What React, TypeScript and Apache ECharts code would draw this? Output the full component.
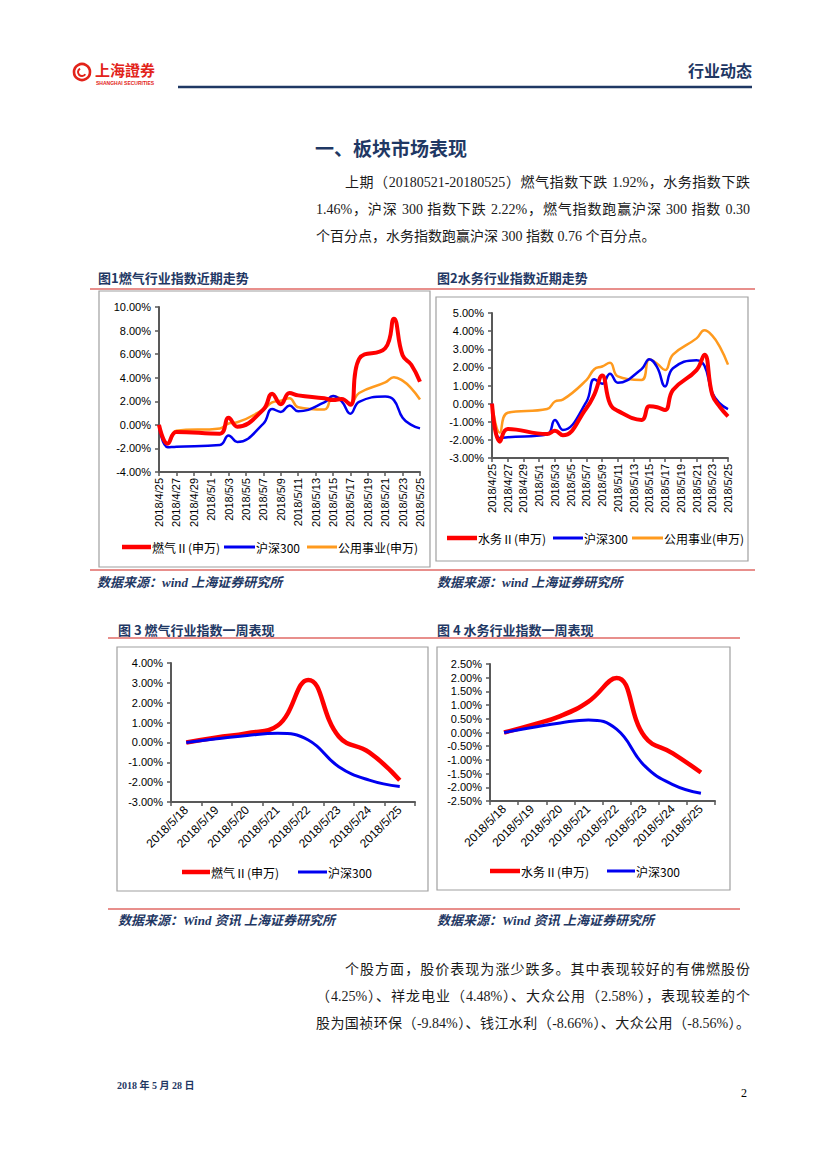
import React, { useEffect, useRef } from 'react';
import * as echarts from 'echarts';

// ---------- DATA ----------
const calendarDays = [
  '2018/4/25', '2018/4/26', '2018/4/27', '2018/4/28', '2018/4/29', '2018/4/30', '2018/5/1',
  '2018/5/2', '2018/5/3', '2018/5/4', '2018/5/5', '2018/5/6', '2018/5/7', '2018/5/8',
  '2018/5/9', '2018/5/10', '2018/5/11', '2018/5/12', '2018/5/13', '2018/5/14', '2018/5/15',
  '2018/5/16', '2018/5/17', '2018/5/18', '2018/5/19', '2018/5/20', '2018/5/21', '2018/5/22',
  '2018/5/23', '2018/5/24', '2018/5/25',
];
const tradingDays = [
  '2018/4/25', '2018/4/26', '2018/4/27', '2018/5/2', '2018/5/3', '2018/5/4', '2018/5/7',
  '2018/5/8', '2018/5/9', '2018/5/10', '2018/5/11', '2018/5/14', '2018/5/15', '2018/5/16',
  '2018/5/17', '2018/5/18', '2018/5/21', '2018/5/22', '2018/5/23', '2018/5/24', '2018/5/25',
];
const gasTrend = [0, -1.6, -0.6, -0.75, 0.6, -0.15, 1.3, 2.65, 1.75, 2.7, 2.5, 2.25, 2.1, 2.2, 1.7, 5.6, 6.5, 9.0, 5.9, 5.1, 3.65];
const hs300Trend = [0, -1.9, -1.85, -1.7, -0.9, -1.45, 0.1, 1.35, 1.1, 1.65, 1.15, 1.9, 2.45, 2.0, 0.95, 1.95, 2.4, 2.1, 0.6, 0.0, -0.3];
const utilityTrend = [0, -1.6, -0.5, -0.3, 0.12, 0.22, 1.3, 1.9, 2.05, 2.25, 1.5, 1.3, 2.45, 2.2, 1.85, 2.7, 3.6, 4.05, 3.75, 3.1, 2.15];
const waterTrend = [0, -2.1, -1.4, -1.68, -1.5, -1.75, -0.25, 0.5, 1.55, 0.0, -0.4, -0.9, -0.15, -0.2, -0.35, 0.75, 1.85, 2.7, 0.5, -0.2, -0.7];

const weekDays = ['2018/5/18', '2018/5/19', '2018/5/20', '2018/5/21', '2018/5/22', '2018/5/23', '2018/5/24', '2018/5/25'];
const gasWeek = [0, 0.25, 0.47, 0.85, 3.15, 0.3, -0.5, -1.9];
const waterWeek = [0, 0.28, 0.6, 1.13, 1.99, -0.15, -0.76, -1.46];
const hs300Week = [0, 0.18, 0.35, 0.46, 0.12, -1.22, -1.9, -2.22];

const NAME_GAS = '燃气Ⅱ(申万)';
const NAME_WATER = '水务Ⅱ(申万)';
const NAME_HS = '沪深300';
const NAME_UTIL = '公用事业(申万)';

// ---------- STYLE ----------
const NAVY = '#1F3864';
const RED = '#FF0000';
const BLUE = '#0000F0';
const ORANGE = '#FF9A1E';
const AXIS = '#595959';
const SANS = '"Liberation Sans", Arial, "Noto Sans CJK SC", sans-serif';
const CJK = '"Noto Sans CJK SC", sans-serif';
const SERIF_CJK = '"Liberation Serif", "Noto Sans CJK SC", serif';

const pct = (v: number) => v.toFixed(2) + '%';

function yAxis(gridIndex: number, min: number, max: number, interval: number) {
  return {
    type: 'value', gridIndex, min, max, interval,
    axisLine: { show: true, lineStyle: { color: AXIS, width: 2 } },
    axisTick: { show: true, length: 4, lineStyle: { color: AXIS, width: 1.5 } },
    splitLine: { show: false },
    axisLabel: { formatter: pct, fontSize: 11, color: '#000', margin: 8, fontFamily: SANS },
  };
}

function trendXAxis(gridIndex: number) {
  return {
    type: 'category', gridIndex, data: calendarDays, boundaryGap: false,
    axisLine: { onZero: false, lineStyle: { color: AXIS, width: 2 } },
    axisTick: { show: true, interval: 1, length: 4, lineStyle: { color: AXIS, width: 1.5 } },
    axisLabel: { interval: 1, rotate: 90, fontSize: 11, color: '#000', margin: 6, fontFamily: SANS },
  };
}

function weekXAxis(gridIndex: number) {
  return {
    type: 'category', gridIndex, data: weekDays, boundaryGap: true,
    axisLine: { onZero: false, lineStyle: { color: AXIS, width: 2 } },
    axisTick: { show: true, length: 4, lineStyle: { color: AXIS, width: 1.5 } },
    axisLabel: { interval: 0, rotate: 45, fontSize: 12, color: '#000', margin: 6, fontFamily: SANS },
  };
}

function lineSeries(name: string, idx: number, data: any[], color: string, width: number, z: number) {
  return {
    type: 'line', name, xAxisIndex: idx, yAxisIndex: idx, data,
    smooth: 0.45, showSymbol: false, symbol: 'none', z,
    lineStyle: { color, width }, itemStyle: { color },
  };
}

const pairs = (vals: number[]) => tradingDays.map((d, i) => [d, vals[i]]);

function txt(text: string, x: number, y: number, font: string, fill: string, align = 'left') {
  return { type: 'text', silent: true, style: { text, x, y, font, fill, align, verticalAlign: 'middle' } };
}
function hline(x1: number, x2: number, y: number, stroke: string, lineWidth: number) {
  return { type: 'line', silent: true, shape: { x1, y1: y, x2, y2: y }, style: { stroke, lineWidth } };
}
function box(x: number, y: number, w: number, h: number) {
  return { type: 'rect', silent: true, shape: { x, y, width: w, height: h }, style: { fill: 'none', stroke: '#A0A0A0', lineWidth: 1.2 } };
}
function legendItem(x: number, y: number, color: string, lw: number, label: string, len = 29) {
  return [
    { type: 'line', silent: true, shape: { x1: x, y1: y, x2: x + len, y2: y }, style: { stroke: color, lineWidth: lw } },
    txt(label, x + len + 1, y, `12px ${CJK}`, '#000'),
  ];
}

const SEP = '#E06A66';
const CAP_FONT = `bold 13px ${CJK}`;
const SRC_FONT = `italic bold 13px ${SERIF_CJK}`;

const graphics: any[] = [
  // header logo
  { type: 'circle', silent: true, shape: { cx: 82, cy: 72, r: 8 }, style: { fill: 'none', stroke: '#E2231A', lineWidth: 2.6 } },
  { type: 'arc', silent: true, shape: { cx: 82, cy: 72, r: 4, startAngle: 0.6, endAngle: 4.2 }, style: { fill: 'none', stroke: '#E2231A', lineWidth: 2 } },
  txt('上海證券', 95, 69, `bold 15px "Noto Sans CJK TC", ${CJK}`, '#E2231A'),
  txt('SHANGHAI SECURITIES', 96, 83, `bold 5px ${SANS}`, '#E2231A'),
  txt('行业动态', 752, 70, `bold 16px ${CJK}`, NAVY, 'right'),
  hline(178, 752, 87, NAVY, 2.5),
  // section title
  txt('一、板块市场表现', 315, 147, `bold 19px ${CJK}`, NAVY),
  // figure 1 & 2 captions
  txt('图1燃气行业指数近期走势', 98, 277, CAP_FONT, NAVY),
  txt('图2水务行业指数近期走势', 437, 277, CAP_FONT, NAVY),
  hline(90, 755, 289, SEP, 1.5),
  box(99, 291, 331, 276),
  box(436, 297, 312, 264),
  hline(90, 755, 570, SEP, 1.5),
  txt('数据来源：wind 上海证券研究所', 97, 582, SRC_FONT, NAVY),
  txt('数据来源：wind 上海证券研究所', 437, 582, SRC_FONT, NAVY),
  // figure 3 & 4
  txt('图 3 燃气行业指数一周表现', 118, 629, CAP_FONT, NAVY),
  txt('图 4 水务行业指数一周表现', 437, 629, CAP_FONT, NAVY),
  hline(108, 740, 638, SEP, 1.5),
  box(117, 647, 311, 244),
  box(437, 647, 293, 243),
  hline(108, 740, 909, SEP, 1.5),
  txt('数据来源：Wind 资讯 上海证券研究所', 118, 920, SRC_FONT, NAVY),
  txt('数据来源：Wind 资讯 上海证券研究所', 437, 920, SRC_FONT, NAVY),
  // footer
  txt('2018 年 5 月 28 日', 117, 1085, `bold 10px ${SERIF_CJK}`, NAVY),
  txt('2', 747, 1093, `12px ${SERIF_CJK}`, '#000', 'right'),
  // legends
  ...legendItem(122, 547, RED, 4.5, NAME_GAS),
  ...legendItem(224, 547, BLUE, 3, NAME_HS, 31),
  ...legendItem(307, 547, ORANGE, 3, NAME_UTIL, 30),
  ...legendItem(447, 538, RED, 4.5, NAME_WATER, 30),
  ...legendItem(553, 538, BLUE, 3, NAME_HS, 30),
  ...legendItem(632, 538, ORANGE, 3, NAME_UTIL, 31),
  ...legendItem(182, 872, RED, 4.5, NAME_GAS, 28),
  ...legendItem(298, 872, BLUE, 3, NAME_HS, 29),
  ...legendItem(490, 871, RED, 4.5, NAME_WATER, 30),
  ...legendItem(607, 871, BLUE, 3, NAME_HS, 28),
];

const option: any = {
  animation: false,
  backgroundColor: '#fff',
  textStyle: { fontFamily: SANS },
  grid: [
    { left: 159, top: 307, width: 261, height: 165 },
    { left: 492, top: 313, width: 236, height: 145 },
    { left: 171, top: 663, width: 244, height: 139 },
    { left: 490, top: 664, width: 225, height: 137 },
  ],
  xAxis: [trendXAxis(0), trendXAxis(1), weekXAxis(2), weekXAxis(3)],
  yAxis: [yAxis(0, -4, 10, 2), yAxis(1, -3, 5, 1), yAxis(2, -3, 4, 1), yAxis(3, -2.5, 2.5, 0.5)],
  series: [
    lineSeries(NAME_UTIL, 0, pairs(utilityTrend), ORANGE, 2.5, 2),
    lineSeries(NAME_HS, 0, pairs(hs300Trend), BLUE, 2.5, 3),
    lineSeries(NAME_GAS, 0, pairs(gasTrend), RED, 4, 4),
    lineSeries(NAME_UTIL, 1, pairs(utilityTrend), ORANGE, 2.5, 2),
    lineSeries(NAME_HS, 1, pairs(hs300Trend), BLUE, 2.5, 3),
    lineSeries(NAME_WATER, 1, pairs(waterTrend), RED, 4, 4),
    lineSeries(NAME_GAS, 2, gasWeek, RED, 4.5, 3),
    lineSeries(NAME_HS, 2, hs300Week, BLUE, 3, 4),
    lineSeries(NAME_WATER, 3, waterWeek, RED, 4.5, 3),
    lineSeries(NAME_HS, 3, hs300Week, BLUE, 3, 4),
  ],
  graphic: { elements: graphics },
};

// ---------- BODY TEXT ----------
const para1 = [
  '上期（20180521-20180525）燃气指数下跌 1.92%，水务指数下跌',
  '1.46%，沪深 300 指数下跌 2.22%，燃气指数跑赢沪深 300 指数 0.30',
  '个百分点，水务指数跑赢沪深 300 指数 0.76 个百分点。',
];
const para2 = [
  '个股方面，股价表现为涨少跌多。其中表现较好的有佛燃股份',
  '（4.25%）、祥龙电业（4.48%）、大众公用（2.58%），表现较差的个',
  '股为国祯环保（-9.84%）、钱江水利（-8.66%）、大众公用（-8.56%）。',
];

function Line({ text, x, y, right, justify }: { text: string; x: number; y: number; right: number; justify: boolean }) {
  return (
    <div
      style={{
        position: 'absolute', left: x, top: y - 8, width: right - x, height: 16,
        fontFamily: '"Liberation Serif", "Noto Sans CJK SC", serif', fontSize: 14, lineHeight: '16px',
        color: '#1a1a1a', whiteSpace: 'nowrap',
        textAlign: justify ? 'justify' : 'left', textAlignLast: justify ? 'justify' : 'left',
      } as any}
    >
      {text}
    </div>
  );
}

export default function App() {
  const ref = useRef<HTMLDivElement>(null);
  useEffect(() => {
    const chart = echarts.init(ref.current!, null, { renderer: 'svg', width: 827, height: 1169 });
    chart.setOption(option);
    return () => chart.dispose();
  }, []);
  return (
    <div style={{ position: 'absolute', left: 0, top: 0, width: 827, height: 1169, background: '#fff', overflow: 'hidden' }}>
      <div ref={ref} style={{ position: 'absolute', left: 0, top: 0, width: 827, height: 1169 }} />
      <Line text={para1[0]} x={345} y={183} right={750} justify />
      <Line text={para1[1]} x={316} y={210} right={750} justify />
      <Line text={para1[2]} x={316} y={237} right={750} justify={false} />
      <Line text={para2[0]} x={345} y={970} right={750} justify />
      <Line text={para2[1]} x={316} y={997} right={750} justify />
      <Line text={para2[2]} x={316} y={1024} right={750} justify />
    </div>
  );
}
